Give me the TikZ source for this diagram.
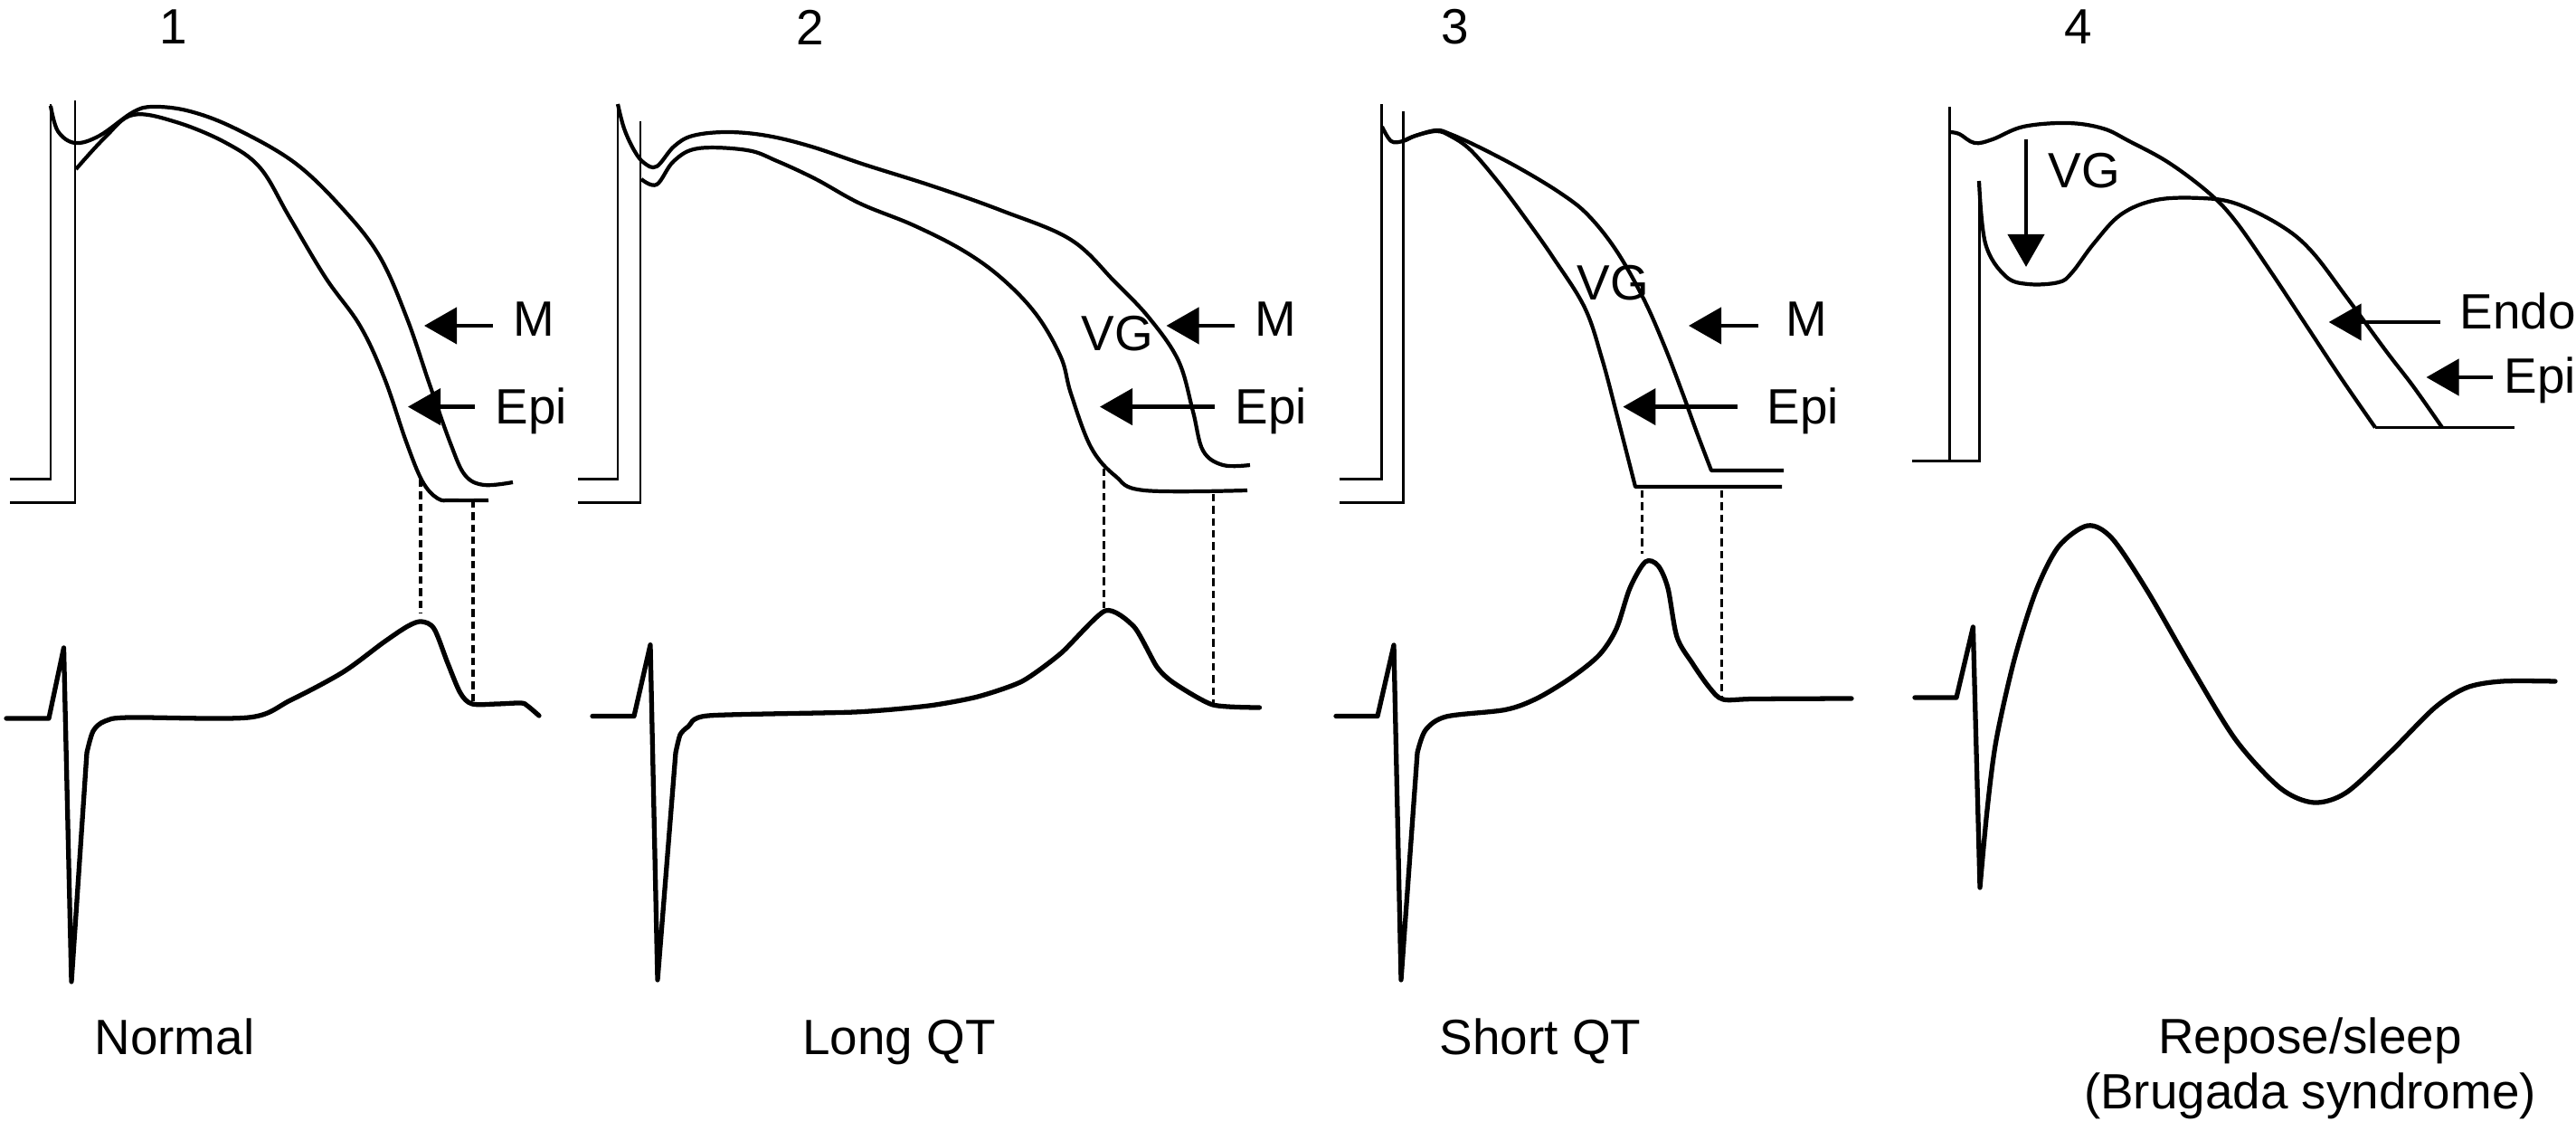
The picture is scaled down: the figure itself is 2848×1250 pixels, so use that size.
\documentclass[tikz,border=0pt]{standalone}
\usepackage{fontspec}
\setmainfont{Liberation Sans}
\usetikzlibrary{arrows.meta,positioning}

\begin{document}
\begin{tikzpicture}[
	x=0.1mm, y=-0.1mm,
	every node/.style={font=\fontsize{15.6}{17.5}\selectfont, inner sep=0pt},
	axis/.style={line width=0.85pt},
	ap/.style={line width=1.2pt, line join=round},
	ecg/.style={line width=1.5pt, line join=round, line cap=round},
	guide/.style={line width=1pt, dash pattern=on 2.4pt off 1.4pt},
	arrow/.style={-{Triangle[length=3.6mm, width=4mm]}, line width=1.2pt, shorten <=2.2mm},
	lbl/.style={anchor=base west}
	]
	
	\useasboundingbox (0,0) rectangle (2848,1250);
	
	% panel 1: normal
	\node (n1) at (192,30) {1};
	\draw[axis] (11,530) -- (56,530) -- (56,115);
	\draw[axis] (11,556) -- (83,556) -- (83,111);
	\draw[ap] plot[smooth, tension=0.6] coordinates {(56,117) (64,145) (83,158) (110,150) (147,124) (170,118) (210,123) (260,142) (326,180) (380,232) (420,284) (450,352) (475,425) (498,490) (514,525) (535,536) (567,533)};
	\draw[ap] plot[smooth, tension=0.6] coordinates {(84,187) (116,152) (147,127) (195,135) (250,158) (288,186) (320,240) (360,307) (398,360) (425,418) (449,488) (467,532) (484,551) (500,553) (540,553)};
	\node[lbl] (m1) at (567,372) {M};
	\node[lbl] (e1) at (547,468.5) {Epi};
	\coordinate (m1tip) at (469,360);
	\coordinate (e1tip) at (451,449.6);
	\draw[arrow] (m1tip -| m1.west) -- (m1tip);
	\draw[arrow] (e1tip -| e1.west) -- (e1tip);
	\coordinate (d1a) at (465,530);
	\coordinate (d1b) at (465,677);
	\coordinate (d1c) at (523,553);
	\coordinate (d1d) at (523,778);
	\draw[guide] (d1a) -- (d1b);
	\draw[guide] (d1c) -- (d1d);
	\draw[ecg] (7,794) -- (54,794) -- (70.5,716) -- (79,1085) -- plot[smooth, tension=0.5] coordinates {(96,832) (103,808) (116,797) (143,793) (275,793) (321,774) (379,743) (424,710) (451,692) (466,687) (480,695) (495,733) (509,766) (522,778) (550,778) (576,777) (583,780) (596,791)};
	\node[anchor=base] (normal) at (193,1166) {Normal};
	
	% panel 2: long QT
	\node (n2) at (896,30) {2};
	\draw[axis] (639,530) -- (683,530) -- (683,115);
	\draw[axis] (639,556) -- (708,556) -- (708,134);
	\draw[ap] plot[smooth, tension=0.6] coordinates {(683,115) (690,142) (701,166) (712,180) (726,184) (745,162) (766,150) (804,146) (848,150) (897,162) (956,182) (1032,206) (1108,233) (1184,265) (1233,312) (1271,352) (1303,399) (1319,455) (1330,498) (1352,514) (1382,514)};
	\draw[ap] plot[smooth, tension=0.6] coordinates {(709,198) (726,204) (745,178) (772,164) (826,166) (859,178) (902,198) (951,225) (1010,249) (1065,277) (1108,308) (1146,348) (1173,395) (1184,435) (1206,494) (1233,526) (1265,542) (1379,542)};
	\node[lbl] (vg2) at (1195,387.5) {VG};
	\node[lbl] (m2) at (1387,372) {M};
	\node[lbl] (e2) at (1365,468.5) {Epi};
	\coordinate (m2tip) at (1289.5,360);
	\coordinate (e2tip) at (1216,449.6);
	\draw[arrow] (m2tip -| m2.west) -- (m2tip);
	\draw[arrow] (e2tip -| e2.west) -- (e2tip);
	\coordinate (d2a) at (1220.5,518);
	\coordinate (d2b) at (1220.5,672);
	\coordinate (d2c) at (1341.5,546);
	\coordinate (d2d) at (1341.5,779);
	\draw[guide] (d2a) -- (d2b);
	\draw[guide] (d2c) -- (d2d);
	\draw[ecg] (655,791.5) -- (701,791.5) -- (719,712.7) -- (727,1083) -- plot[smooth, tension=0.4] coordinates {(747,832) (752,812) (761,803) (783,791) (945,787) (1027,780) (1081,770) (1130,753) (1173,722) (1222,675) (1254,693) (1279,737) (1298,755) (1341,779) (1392.5,782)};
	\node[anchor=base] (longqt) at (994,1166) {Long QT};
	
	% panel 3: short QT
	\node (n3) at (1609,30) {3};
	\draw[axis] (1481,530) -- (1527,530) -- (1527,115);
	\draw[axis] (1481,556) -- (1551,556) -- (1551,123);
	\draw[ap] plot[smooth, tension=0.6] coordinates {(1528,140) (1538,156) (1551,156) (1565,150) (1588,144) (1603,148) (1634,162) (1680,186) (1726,214) (1756,238) (1787,277) (1817,330) (1840,382) (1860,434) (1876,478) (1892,520)} -- (1972,520);
	\draw[ap] plot[smooth, tension=0.6] coordinates {(1551,156) (1565,150) (1588,145) (1603,150) (1626,166) (1657,202) (1687,242) (1718,286) (1752,340) (1771,396) (1788,460) (1808,538)} -- (1970,538);
	\node[lbl] (vg3) at (1743,332) {VG};
	\node[lbl] (m3) at (1974,372) {M};
	\node[lbl] (e3) at (1953,468.5) {Epi};
	\coordinate (m3tip) at (1867,360);
	\coordinate (e3tip) at (1794.4,449.6);
	\draw[arrow, shorten <=3mm] (m3tip -| m3.west) -- (m3tip);
	\draw[arrow, shorten <=3.2mm] (e3tip -| e3.west) -- (e3tip);
	\coordinate (d3a) at (1815.7,542);
	\coordinate (d3b) at (1815.7,612);
	\coordinate (d3c) at (1903.5,542);
	\coordinate (d3d) at (1903.5,772);
	\draw[guide] (d3a) -- (d3b);
	\draw[guide] (d3c) -- (d3d);
	\draw[ecg] (1477,791.5) -- (1523,791.5) -- (1541,713) -- (1549,1083) -- plot[smooth, tension=0.5] coordinates {(1567,832) (1576,807) (1599,792) (1664,784.5) (1699,772) (1737,749) (1768,724) (1787,695) (1802,650) (1819,621) (1833,625) (1844,650) (1854,704) (1871,733) (1890,760) (1905,773) (1940,772.5) (2047,772)};
	\node[anchor=base] (shortqt) at (1703,1166) {Short QT};
	
	% panel 4: Brugada
	\node (n4) at (2298,30) {4};
	\draw[axis] (2114,510) -- (2190,510);
	\draw[axis] (2155,510) -- (2155,118);
	\draw[axis] (2188,510) -- (2188,200);
	\draw[axis] (2626,472.5) -- (2780,472.5);
	\draw[ap] plot[smooth, tension=0.6] coordinates {(2155,146) (2166,148) (2183,158) (2203,154) (2237,140) (2286,136) (2325,142) (2354,156) (2398,180) (2443,214) (2472,245) (2511,301) (2550,360) (2589,419) (2626,472.5)};
	\draw[ap] plot[smooth, tension=0.6] coordinates {(2188,200) (2195,269) (2217,305) (2242,314) (2276,312) (2291,301) (2315,269) (2345,237) (2384,221) (2433,219) (2472,225) (2521,249) (2555,277) (2594,328) (2638,388) (2668,427) (2700,472.5)};
	\node[lbl] (vg4) at (2264,207.6) {VG};
	\coordinate (vg4top) at (2240,154);
	\coordinate (vg4tip) at (2240,295);
	\draw[arrow, shorten <=0pt] (vg4top) -- (vg4tip);
	\node[lbl] (en4) at (2719,364) {Endo};
	\node[lbl] (e4) at (2768,435) {Epi};
	\coordinate (en4tip) at (2574.7,356);
	\coordinate (e4tip) at (2682.5,417);
	\draw[arrow, shorten <=2.1mm] (en4tip -| en4.west) -- (en4tip);
	\draw[arrow, shorten <=1.2mm] (e4tip -| e4.west) -- (e4tip);
	\draw[ecg] (2117,771) -- (2163,771) -- (2181.4,693) -- (2189,981) -- plot[smooth, tension=0.5] coordinates {(2189,981) (2197,895) (2207,818) (2227,729) (2251,653) (2276,604) (2308,581) (2335,595) (2374,653) (2423,738) (2472,818) (2521,871) (2558,887) (2594,876) (2643,831) (2692,782) (2727,760) (2766,753) (2825,753)};
	\node[anchor=north, align=center] (brugada) at (2554,1124) {Repose/sleep\\(Brugada syndrome)};
	
\end{tikzpicture}
\end{document}
